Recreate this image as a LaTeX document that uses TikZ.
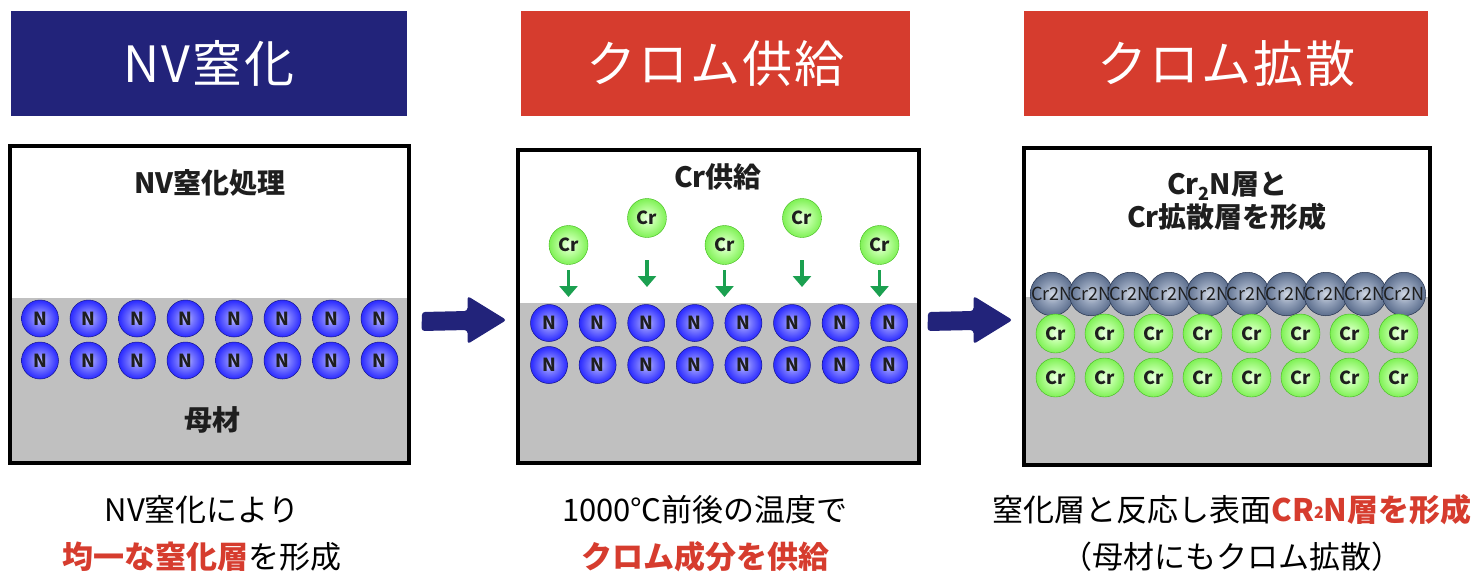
\documentclass[tikz,border=0pt]{standalone}
\usepackage{fontspec}
\setmainfont{Noto Sans CJK JP}
\newfontfamily\hdrfont[LetterSpace=4]{Noto Sans CJK JP}
\usetikzlibrary{arrows.meta,calc}
\definecolor{navy}{HTML}{22237A}
\definecolor{hred}{HTML}{D63C2E}
\definecolor{basegray}{HTML}{C0C0C0}
\definecolor{agreen}{HTML}{1BA050}
\definecolor{txtdark}{HTML}{1E1E1E}
\definecolor{nIn}{HTML}{CACAFF}
\definecolor{nMid}{HTML}{8080FF}
\definecolor{nOut}{HTML}{2E2EFF}
\definecolor{nEdge}{HTML}{1818B0}
\definecolor{gIn}{HTML}{EEFFE6}
\definecolor{gMid}{HTML}{BBFF9E}
\definecolor{gOut}{HTML}{72EE46}
\definecolor{gEdge}{HTML}{48CC1E}
\definecolor{sIn}{HTML}{D2D9E4}
\definecolor{sMid}{HTML}{94A2BA}
\definecolor{sOut}{HTML}{4F6283}
\definecolor{sEdge}{HTML}{26344F}
\pgfdeclareradialshading{nshade}{\pgfpointorigin}{color(0bp)=(nIn); color(9bp)=(nMid); color(24bp)=(nOut); color(44bp)=(nOut); color(50bp)=(nEdge)}
\pgfdeclareradialshading{gshade}{\pgfpointorigin}{color(0bp)=(gIn); color(11bp)=(gMid); color(28bp)=(gOut); color(50bp)=(gEdge)}
\pgfdeclareradialshading{sshade}{\pgfpointorigin}{color(0bp)=(sIn); color(11bp)=(sMid); color(28bp)=(sOut); color(50bp)=(sEdge)}
\tikzset{
  header/.style={fill=#1, inner sep=0pt, minimum height=105pt, text=white,
    font=\hdrfont\fontsize{50}{50}\selectfont},
  panelbox/.style={draw=black, line width=3.5pt, inner sep=0pt},
  ptitle/.style={text=txtdark, font=\bfseries\fontsize{28}{33}\selectfont, align=center},
  nball/.style={circle, inner sep=0pt, minimum size=37pt, shading=nshade,
    draw=nEdge!80!black, line width=0.5pt, text=txtdark, font=\bfseries\fontsize{18}{18}\selectfont},
  crball/.style={circle, inner sep=0pt, minimum size=39pt, shading=gshade,
    draw=gEdge!90!black, line width=0.4pt, text=txtdark, font=\bfseries\fontsize{18}{18}\selectfont},
  cnball/.style={circle, inner sep=0pt, minimum size=42pt, shading=sshade,
    draw=sEdge, line width=0.5pt, text=txtdark, font=\fontsize{18}{18}\selectfont},
  garrow/.style={draw=agreen, line width=3.2pt, -{Triangle[width=18pt,length=11pt]}},
  bigarrow/.style={fill=navy, rounded corners=3pt},
  caption/.style={text=black, font=\fontsize{31}{31}\selectfont}
}
\newcommand{\redb}[1]{{\bfseries\color{hred}#1}}
\begin{document}
\begin{tikzpicture}[x=1pt,y=-1pt]
\useasboundingbox (0,0) rectangle (1478,574);
\fill[white] (0,0) rectangle (1478,574);

% headers
\node[header=navy, minimum width=396pt] (h1) at (209,63.5) {NV窒化};
\node[header=hred, minimum width=389pt] (h2) at (715.5,63.5) {クロム供給};
\node[header=hred, minimum width=404pt] (h3) at (1226,63.5) {クロム拡散};

% panel 1
\fill[basegray] (10,298) rectangle (409,463);
\node[panelbox, minimum width=399pt, minimum height=317pt] (p1) at (209.5,304.5) {};
\node[ptitle] (t1) at (210,183) {NV窒化処理};
\node[ptitle] (m1) at (212,420) {母材};
\foreach \i in {1,...,8} {
  \node[nball] (pa\i) at ({40+48.5*(\i-1)},318.5) {N};
  \node[nball] (pb\i) at ({40+48.5*(\i-1)},360.5) {N};
}

% panel 2
\fill[basegray] (518,303) rectangle (919,463);
\node[panelbox, minimum width=401pt, minimum height=313pt] (p2) at (718.5,306.5) {};
\node[ptitle] (t2) at (718,177) {Cr供給};
\foreach \i in {1,...,8} {
  \node[nball] (qa\i) at ({549+48.6*(\i-1)},323) {N};
  \node[nball] (qb\i) at ({549+48.6*(\i-1)},365) {N};
}
\node[crball] (c1) at (568.5,245) {Cr};
\node[crball] (c2) at (647,218) {Cr};
\node[crball] (c3) at (724.5,245) {Cr};
\node[crball] (c4) at (802,218) {Cr};
\node[crball] (c5) at (879.5,245) {Cr};
\draw[garrow] (c1.south |- 0,270) -- (c1.south |- 0,297);
\draw[garrow] (c2.south |- 0,260) -- (c2.south |- 0,287);
\draw[garrow] (c3.south |- 0,270) -- (c3.south |- 0,297);
\draw[garrow] (c4.south |- 0,260) -- (c4.south |- 0,287);
\draw[garrow] (c5.south |- 0,270) -- (c5.south |- 0,297);

% panel 3
\fill[basegray] (1024,297) rectangle (1430,465);
\node[panelbox, minimum width=406pt, minimum height=317pt] (p3) at (1227,306.5) {};
\node[ptitle] (t3) at (1227,201) {Cr\raisebox{-0.22em}{\fontsize{18}{18}\selectfont 2}N層と\\Cr拡散層を形成};
\foreach \i in {1,...,10} {
  \node[cnball] (s\i) at ({1052+39.1*(\i-1)},294) {Cr2N};
}
\foreach \i in {1,...,8} {
  \node[crball] (ra\i) at ({1055.5+49*(\i-1)},333.5) {Cr};
  \node[crball] (rb\i) at ({1055.5+49*(\i-1)},377.5) {Cr};
}

% big arrows between panels
\coordinate (a1) at (464.5,320);
\coordinate (a2) at (970.5,320);
\foreach \a in {a1,a2} {
  \fill[bigarrow] (\a) ++(-42.5,-8) -- ++(45.5,-1) -- ++(0,-15) -- ++(39,24)
    -- ++(-39,24) -- ++(0,-14) -- ++(-46,1) -- cycle;
}

% captions
\node[caption] (b1a) at (202,510) {NV窒化により};
\node[caption] (b1b) at (202,557) {\redb{均一な窒化層}を形成};
\node[caption] (b2a) at (705,510) {1000℃前後の温度で};
\node[caption] (b2b) at (705,557) {\redb{クロム成分を供給}};
\node[caption] (b3a) at (1232,510) {窒化層と反応し表面\redb{CR\raisebox{0.1em}{\fontsize{16}{16}\selectfont 2}N層を形成}};
\node[caption] (b3b) at (1232,557) {（母材にもクロム拡散）};
\end{tikzpicture}
\end{document}
